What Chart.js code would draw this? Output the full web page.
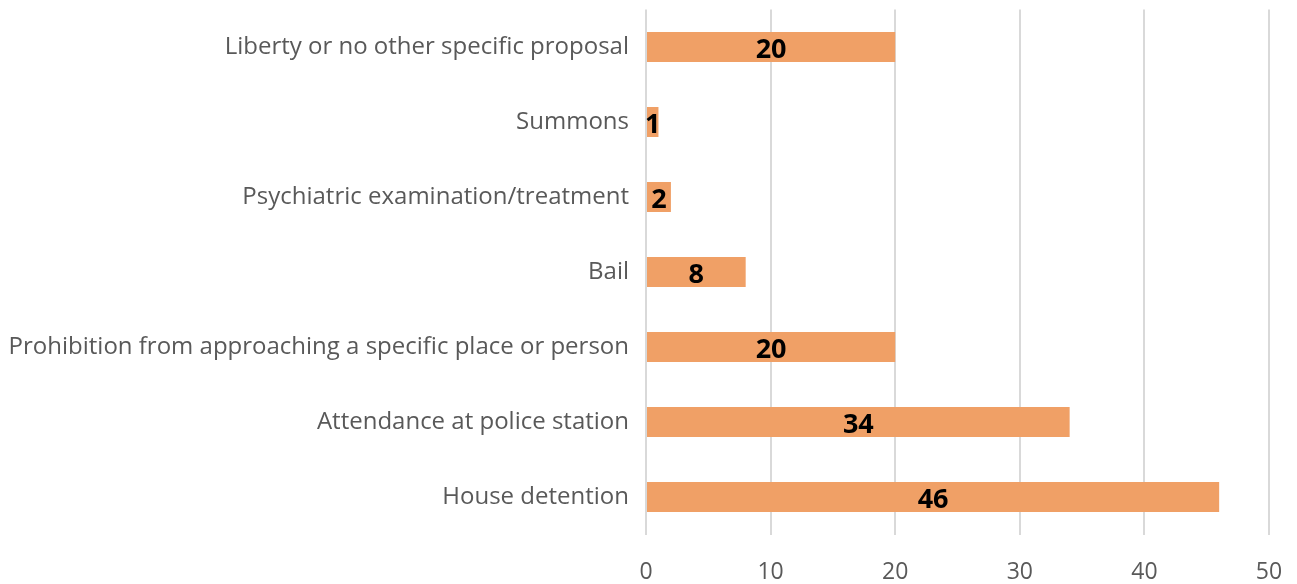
<!DOCTYPE html>
<html>
<head>
<meta charset="utf-8">
<script src="https://cdn.jsdelivr.net/npm/chart.js@4"></script>
<style>
  html, body { margin: 0; padding: 0; background: #ffffff; }
  #wrap { width: 1297px; height: 584px; }
</style>
</head>
<body>
<div id="wrap"><canvas id="c" width="1297" height="584"></canvas></div>
<script>
// Measures proposed by the prosecution
const categories = [
  "Liberty or no other specific proposal",
  "Summons",
  "Psychiatric examination/treatment",
  "Bail",
  "Prohibition from approaching a specific place or person",
  "Attendance at police station",
  "House detention"
];
const counts = [20, 1, 2, 8, 20, 34, 46];
const xTicks = [0, 10, 20, 30, 40, 50];

// Writes each bar's value in bold at its centre
const valueLabels = {
  id: 'valueLabels',
  afterDatasetsDraw(chart) {
    const ctx = chart.ctx;
    const meta = chart.getDatasetMeta(0);
    ctx.save();
    ctx.font = 'bold 27px "Open Sans"';
    ctx.fillStyle = '#000000';
    ctx.textAlign = 'center';
    ctx.textBaseline = 'middle';
    meta.data.forEach((bar, i) => {
      const cx = (bar.x + bar.base) / 2;
      ctx.fillText(String(chart.data.datasets[0].data[i]), cx, bar.y + 3);
    });
    ctx.restore();
  }
};

new Chart(document.getElementById('c'), {
  type: 'bar',
  data: {
    labels: categories,
    datasets: [{
      data: counts,
      backgroundColor: '#F0A066',
      borderWidth: 0,
      barPercentage: 0.8,
      categoryPercentage: 0.5
    }]
  },
  options: {
    indexAxis: 'y',
    responsive: false,
    animation: false,
    layout: { padding: { top: 9.5, right: 28, bottom: 0, left: 0 } },
    plugins: { legend: { display: false }, tooltip: { enabled: false } },
    scales: {
      x: {
        min: 0, max: 50,
        afterBuildTicks(scale) { scale.ticks = xTicks.map(v => ({ value: v })); },
        grid: { color: '#d9d9d9', lineWidth: 2, drawTicks: false },
        border: { display: false },
        ticks: { color: '#595959', font: { family: '"Open Sans"', size: 23 }, padding: 24 },
        afterFit(scale) {
          scale.height = 49.5;
          scale.paddingLeft = 0; scale.paddingRight = 0;
        }
      },
      y: {
        grid: { display: false, drawTicks: false },
        border: { display: false },
        ticks: { color: '#595959', font: { family: '"Open Sans"', size: 24 }, padding: 17 },
        afterFit(scale) {
          scale.width = 646;
          scale.paddingTop = 0; scale.paddingBottom = 0;
        }
      }
    }
  },
  plugins: [valueLabels]
});
</script>
</body>
</html>
